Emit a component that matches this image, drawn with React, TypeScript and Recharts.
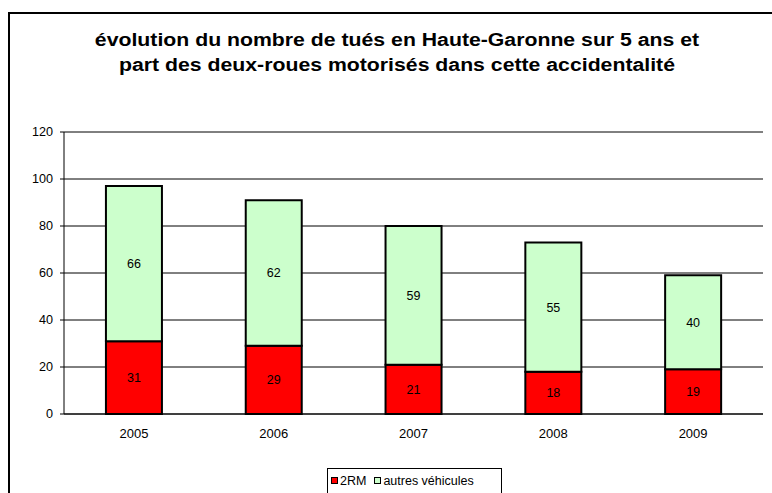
import { BarChart, Bar, XAxis, YAxis, CartesianGrid, LabelList } from "recharts";

const years = ["2005", "2006", "2007", "2008", "2009"];
const deuxRoues = [31, 29, 21, 18, 19];
const autres = [66, 62, 59, 55, 40];
const yTicks = [0, 20, 40, 60, 80, 100, 120];

const data = years.map((year, i) => ({
  year,
  idx: i,
  rm: deuxRoues[i],
  autres: autres[i],
}));

const FONT = "'Liberation Sans', Arial, sans-serif";

const LegendBox = () => (
  <div
    style={{
      position: "absolute",
      left: 327,
      top: 468,
      width: 175,
      height: 27,
      border: "1px solid #000",
      display: "flex",
      alignItems: "center",
      fontSize: 12.5,
      fontFamily: FONT,
      color: "#000",
      boxSizing: "border-box",
      paddingLeft: 3,
      paddingBottom: 2,
    }}
  >
    <span style={{ width: 5, height: 5, background: "#ff0000", border: "1px solid #000", marginRight: 2 }} />
    <span style={{ marginRight: 8 }}>2RM</span>
    <span style={{ width: 5, height: 5, background: "#ccffcc", border: "1px solid #000", marginRight: 2 }} />
    <span>autres véhicules</span>
  </div>
);

export default function App() {
  return (
    <div style={{ position: "absolute", left: 0, top: 0, width: 772, height: 493, background: "#fff", overflow: "hidden" }}>
      {/* chart frame, right and bottom edges fall outside the picture */}
      <div
        style={{
          position: "absolute",
          left: 8,
          top: 12,
          width: 800,
          height: 520,
          borderTop: "2px solid #000",
          borderLeft: "2px solid #000",
        }}
      />
      <div
        style={{
          position: "absolute",
          left: 0,
          top: 28,
          width: 794,
          textAlign: "center",
          fontFamily: FONT,
          fontWeight: "bold",
          fontSize: 18,
          lineHeight: "25px",
          color: "#000",
          transform: "scaleX(1.18)",
          transformOrigin: "397px 0",
        }}
      >
        évolution du nombre de tués en Haute-Garonne sur 5 ans et
        <br />
        part des deux-roues motorisés dans cette accidentalité
      </div>
      <div style={{ position: "absolute", left: 0, top: 0 }}>
        <BarChart
          width={772}
          height={493}
          data={data}
          margin={{ top: 132, right: 9, left: 0, bottom: 49 }}
          barCategoryGap="30%"
        >
          <CartesianGrid vertical={false} horizontal stroke="#000" strokeWidth={1} />
          <XAxis
            dataKey="year"
            axisLine={{ stroke: "#000" }}
            tickLine={false}
            tickSize={6}
            tickMargin={9}
            height={30}
            tick={{ fill: "#000", fontSize: 13, fontFamily: FONT }}
          />
          <XAxis
            xAxisId="bounds"
            type="number"
            dataKey="idx"
            domain={[0, 5]}
            ticks={[0, 1, 2, 3, 4, 5]}
            axisLine={false}
            tickLine={{ stroke: "#000" }}
            tickSize={4}
            tick={false}
            height={0}
          />
          <YAxis
            width={64}
            domain={[0, 120]}
            ticks={yTicks}
            axisLine={{ stroke: "#000" }}
            tickLine={{ stroke: "#000" }}
            tickSize={4}
            tickMargin={7}
            tick={{ fill: "#000", fontSize: 12.6, fontFamily: FONT }}
          />
          <Bar dataKey="rm" stackId="a" name="2RM" fill="#ff0000" stroke="#000" strokeWidth={2} isAnimationActive={false}>
            <LabelList dataKey="rm" position="center" fill="#000" fontSize={12.5} fontFamily={FONT} />
          </Bar>
          <Bar dataKey="autres" stackId="a" name="autres véhicules" fill="#ccffcc" stroke="#000" strokeWidth={2} isAnimationActive={false}>
            <LabelList dataKey="autres" position="center" fill="#000" fontSize={12.5} fontFamily={FONT} />
          </Bar>
        </BarChart>
      </div>
      <LegendBox />
    </div>
  );
}
